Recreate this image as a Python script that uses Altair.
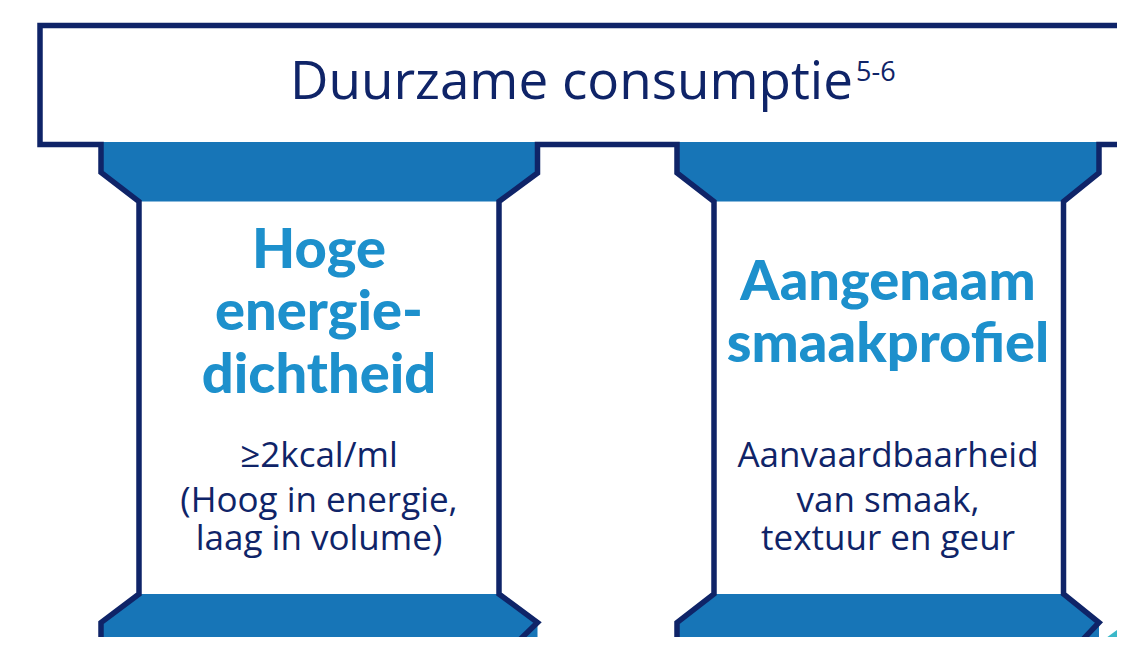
import altair as alt
import pandas as pd

# ---- canvas (pixel-like data space; page margin is 8px) ----
X_DOMAIN = [8, 1117]
Y_DOMAIN = [8, 637]

# ---- text content ----
title_text = ["Duurzame consumptie"]
title_sup = ["5-6"]
heading_lines = [["Hoge", "energie-", "dichtheid"], ["Aangenaam", "smaakprofiel"]]
body_lines = [["≥2kcal/ml", "(Hoog in energie,", "laag in volume)"],
              ["Aanvaardbaarheid", "van smaak,", "textuur en geur"]]

# ---- layout anchors (data space) ----
pillar_center_x = [319, 888]
heading_line_y = [[268, 330, 393], [300, 362]]
body_line_y = [467, 512, 550]
title_anchor = [853, 99]
sup_anchor = [856, 81]

# ---- outline polylines (x list, y list) ----
path_a_x = [1140, 40, 40, 101, 101, 139, 139, 101, 101]
path_a_y = [25.5, 25.5, 144.5, 144.5, 172.5, 201.5, 594, 622.5, 660]
path_b_x = [499, 537.5, 499, 499, 537.5, 537.5, 677, 677, 714, 714, 677, 677]
path_b_y = [660, 622.5, 594, 201.5, 173, 144.5, 144.5, 173, 201.5, 594, 622.5, 660]
path_c_x = [1063.5, 1099, 1063.5, 1063.5, 1099, 1099, 1140]
path_c_y = [660, 622.5, 594, 201.5, 173, 144.5, 144.5]

# ---- blue fills: capitals and bases (x, y_top, y_bottom) ----
cap1_x = [101, 139, 499, 537.5]
cap1_top = [142, 142, 142, 142]
cap1_bot = [172.5, 201.5, 201.5, 172.5]
cap2_x = [677, 714, 1063.5, 1099]
cap2_top = [142, 142, 142, 142]
cap2_bot = [172.5, 201.5, 201.5, 172.5]
base1_x = [101, 139, 499, 537.5]
base1_top = [622.5, 594, 594, 622.5]
base1_bot = [660, 660, 660, 660]
base2_x = [677, 714, 1063.5, 1099]
base2_top = [622.5, 594, 594, 622.5]
base2_bot = [660, 660, 660, 660]
teal_x = [1106, 1117, 1140]
teal_top = [638, 630, 620]
teal_bot = [660, 660, 660]

NAVY = "#0f2468"
BLUE = "#1775b7"
HEAD = "#1d90cc"
TEAL = "#3bb8c9"

xs = alt.Scale(domain=X_DOMAIN, nice=False, zero=False)
ys = alt.Scale(domain=Y_DOMAIN, nice=False, zero=False, reverse=True)


def X(f="x"):
    return alt.X(f"{f}:Q", scale=xs, axis=None)


def Y(f="y"):
    return alt.Y(f"{f}:Q", scale=ys, axis=None, stack=None)


def area_layer(xx, tt, bb, color):
    df = pd.DataFrame({"x": xx, "y": tt, "y2": bb})
    return alt.Chart(df).mark_area(color=color, clip=True, interpolate="linear").encode(
        x=X(), y=Y(), y2="y2:Q")


fills = [area_layer(*s, BLUE) for s in [(cap1_x, cap1_top, cap1_bot), (cap2_x, cap2_top, cap2_bot),
                                        (base1_x, base1_top, base1_bot), (base2_x, base2_top, base2_bot)]]
teal = area_layer(teal_x, teal_top, teal_bot, TEAL)


def line_layer(xx, yy):
    df = pd.DataFrame({"i": list(range(len(xx))), "x": xx, "y": yy})
    return alt.Chart(df).mark_line(
        color=NAVY, strokeWidth=5.5, strokeJoin="miter", strokeCap="butt", clip=True).encode(
        x=X(), y=Y(), order="i:Q")


outlines = [line_layer(path_a_x, path_a_y), line_layer(path_b_x, path_b_y), line_layer(path_c_x, path_c_y)]

# title
title_df = pd.DataFrame({"x": [title_anchor[0]], "y": [title_anchor[1]], "t": title_text})
title = alt.Chart(title_df).mark_text(
    font="Open Sans", fontSize=53, color=NAVY, align="right", baseline="alphabetic").encode(
    x=X(), y=Y(), text="t:N")
sup_df = pd.DataFrame({"x": [sup_anchor[0]], "y": [sup_anchor[1]], "t": title_sup})
sup = alt.Chart(sup_df).mark_text(
    font="Open Sans", fontSize=27, color=NAVY, align="left", baseline="alphabetic").encode(
    x=X(), y=Y(), text="t:N")

# headings
head_rows = []
for p, lines in enumerate(heading_lines):
    for j, ln in enumerate(lines):
        head_rows.append({"x": pillar_center_x[p], "y": heading_line_y[p][j], "t": ln})
heads = alt.Chart(pd.DataFrame(head_rows)).mark_text(
    font="Lato", fontWeight=900, fontSize=56, color=HEAD, align="center", baseline="alphabetic").encode(
    x=X(), y=Y(), text="t:N")

body_rows = []
for p, lines in enumerate(body_lines):
    for j, ln in enumerate(lines):
        body_rows.append({"x": pillar_center_x[p], "y": body_line_y[j], "t": ln})
bodies = alt.Chart(pd.DataFrame(body_rows)).mark_text(
    font="Open Sans", fontSize=35, color=NAVY, align="center", baseline="alphabetic").encode(
    x=X(), y=Y(), text="t:N")

chart = alt.layer(*fills, teal, *outlines, title, sup, heads, bodies).properties(
    width=X_DOMAIN[1] - X_DOMAIN[0], height=Y_DOMAIN[1] - Y_DOMAIN[0],
    padding=0, autosize=alt.AutoSizeParams(type="none"), background="white"
).configure_view(stroke=None)

chart.save("out.html", embed_options={"renderer": "svg", "actions": False})
